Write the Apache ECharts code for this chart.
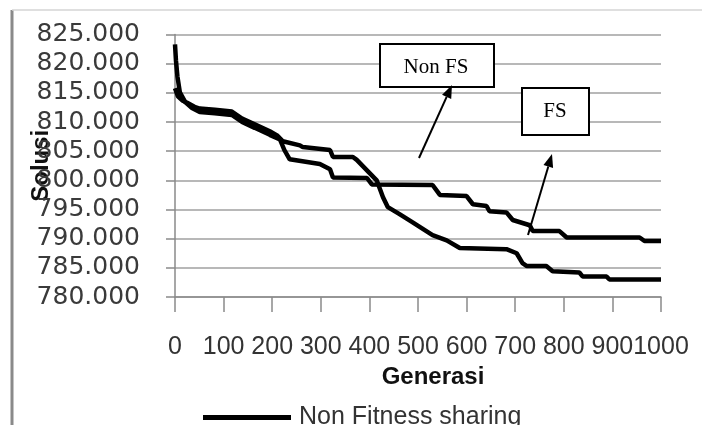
<!DOCTYPE html>
<html>
<head>
<meta charset="utf-8">
<script src="https://cdn.jsdelivr.net/npm/echarts@6/dist/echarts.min.js"></script>
<style>
html,body{margin:0;padding:0;background:#fff;}
#chart{width:702px;height:425px;}
</style>
</head>
<body>
<div id="chart"></div>
<script>
// Axis ticks
var yTicks = [780000, 785000, 790000, 795000, 800000, 805000, 810000, 815000, 820000, 825000];
var xTicks = [0, 100, 200, 300, 400, 500, 600, 700, 800, 900, 1000];

// Series: Non Fitness sharing (generation, solution)
var nonFsGen = [0, 6, 15, 25, 40, 51, 82, 117, 138, 164, 195, 210, 222, 257, 263, 319, 325, 366, 374, 401, 415, 428, 438, 462, 489, 530, 559, 586, 682, 703, 715, 724, 764, 777, 832, 839, 888, 894, 1000];
var nonFsVal = [815800, 814400, 813700, 813300, 812600, 812300, 812100, 811800, 810600, 809600, 808400, 807700, 806700, 806000, 805700, 805200, 804000, 804000, 803500, 801200, 800000, 797100, 795400, 794200, 792800, 790600, 789700, 788400, 788200, 787500, 785800, 785300, 785300, 784400, 784200, 783500, 783500, 783000, 783000];

// Series: Fitness sharing (generation, solution)
var fsGen = [0, 2, 5, 10, 21, 35, 51, 82, 117, 138, 164, 195, 216, 225, 236, 298, 319, 325, 395, 405, 530, 545, 600, 613, 641, 647, 682, 695, 730, 736, 791, 806, 956, 966, 1000];
var fsVal = [823300, 820500, 817800, 815100, 813400, 812400, 811700, 811500, 811200, 810000, 809000, 807800, 807000, 805200, 803600, 802800, 801900, 800500, 800400, 799300, 799200, 797500, 797300, 795900, 795600, 794700, 794500, 793200, 792300, 791300, 791300, 790200, 790200, 789600, 789600];

var seriesNames = ['Non Fitness sharing', 'Fitness sharing'];

function pairs(g, v) { return g.map(function (x, i) { return [x, v[i]]; }); }

var chart = echarts.init(document.getElementById('chart'), null, {renderer: 'canvas'});

function arrow(x1, y1, x2, y2) {
  var dx = x2 - x1, dy = y2 - y1, L = Math.sqrt(dx * dx + dy * dy);
  var ux = dx / L, uy = dy / L, h = 13, w = 5;
  var bx = x2 - ux * h, by = y2 - uy * h;
  return [
    {type: 'line', shape: {x1: x1, y1: y1, x2: bx, y2: by}, style: {stroke: '#000', lineWidth: 2}, z: 100},
    {type: 'polygon', shape: {points: [[x2, y2], [bx - uy * w, by + ux * w], [bx + uy * w, by - ux * w]]}, style: {fill: '#000'}, z: 100}
  ];
}

var graphics = [
  {type: 'line', shape: {x1: 12, y1: 10, x2: 12, y2: 425}, style: {stroke: '#8a8a8a', lineWidth: 3}, z: 1},
  {type: 'line', shape: {x1: 12, y1: 10, x2: 702, y2: 10}, style: {stroke: '#d4d4d4', lineWidth: 1.5}, z: 1},
  {type: 'rect', shape: {x: 380, y: 44, width: 114, height: 43}, style: {fill: '#fff', stroke: '#000', lineWidth: 2}, z: 100},
  {type: 'text', x: 436, y: 67, style: {text: 'Non FS', font: '21px "Liberation Serif"', fill: '#000', align: 'center', verticalAlign: 'middle'}, z: 101},
  {type: 'rect', shape: {x: 522, y: 88, width: 67, height: 47}, style: {fill: '#fff', stroke: '#000', lineWidth: 2}, z: 100},
  {type: 'text', x: 555, y: 111, style: {text: 'FS', font: '21px "Liberation Serif"', fill: '#000', align: 'center', verticalAlign: 'middle'}, z: 101}
].concat(arrow(419, 158, 452, 85)).concat(arrow(528, 235, 552, 154));

chart.setOption({
  animation: false,
  backgroundColor: '#fff',
  grid: {left: 175, right: 41, top: 34.5, bottom: 128, containLabel: false, outerBoundsMode: 'none'},
  legend: {
    data: [seriesNames[0]],
    left: 198, top: 400,
    icon: 'rect', itemWidth: 88, itemHeight: 5, itemGap: 20,
    textStyle: {fontFamily: 'Liberation Sans', fontSize: 25, color: '#333', padding: [0, 0, 0, 3]}
  },
  xAxis: {
    type: 'value', min: xTicks[0], max: xTicks[xTicks.length - 1], interval: 100,
    name: 'Generasi', nameLocation: 'middle', nameGap: 68, nameMoveOverlap: false,
    nameTextStyle: {fontFamily: 'Liberation Sans', fontWeight: 'bold', fontSize: 24, color: '#111', padding: [0, 0, 0, 30]},
    axisLine: {show: true, lineStyle: {color: '#8a8a8a', width: 1.5}},
    axisTick: {show: true, length: 15, lineStyle: {color: '#8a8a8a', width: 1.5}},
    axisLabel: {fontFamily: 'Liberation Sans', fontSize: 25, color: '#333', margin: 38, hideOverlap: false,
      showMinLabel: true, showMaxLabel: true,
      formatter: function (v) { return String(v); }},
    splitLine: {show: false}
  },
  yAxis: {
    type: 'value', min: yTicks[0], max: yTicks[yTicks.length - 1], interval: 5000,
    name: 'Solusi', nameLocation: 'middle', nameGap: 122, nameMoveOverlap: false,
    nameTextStyle: {fontFamily: 'Liberation Sans', fontWeight: 'bold', fontSize: 24, color: '#111'},
    axisLine: {show: true, lineStyle: {color: '#8a8a8a', width: 1.5}},
    axisTick: {show: true, length: 9, lineStyle: {color: '#8a8a8a', width: 1.5}},
    axisLabel: {fontFamily: 'DejaVu Sans', fontSize: 25, color: '#3a3a3a', margin: 35,
      formatter: function (v) { return (v / 1000).toFixed(3); }},
    splitLine: {show: true, lineStyle: {color: '#a0a0a0', width: 1.5}}
  },
  series: [
    {name: seriesNames[0], type: 'line', data: pairs(nonFsGen, nonFsVal), showSymbol: false, symbol: 'none',
      lineStyle: {color: '#000', width: 4.5}, itemStyle: {color: '#000'}, z: 5},
    {name: seriesNames[1], type: 'line', data: pairs(fsGen, fsVal), showSymbol: false, symbol: 'none',
      lineStyle: {color: '#000', width: 4.5}, itemStyle: {color: '#000'}, z: 5}
  ],
  graphic: graphics
});
</script>
</body>
</html>
